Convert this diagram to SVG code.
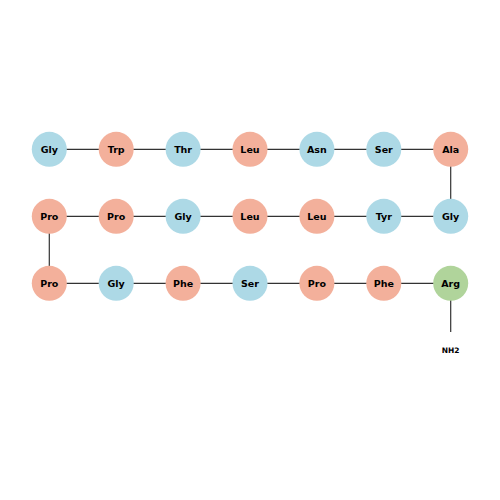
<svg xmlns="http://www.w3.org/2000/svg" width="500" height="500" viewBox="0 0 500 500">
<style>
.n circle{stroke:none}
.s{fill:#F3B09B}
.b{fill:#ADD9E6}
.g{fill:#B0D49B}
text{font-family:"DejaVu Sans",sans-serif;font-weight:bold;font-size:9.5px;fill:#000;text-anchor:middle;dominant-baseline:central}
#connectors line{stroke:#333;stroke-width:1.2}
</style>
<rect width="500" height="500" fill="#fff"/>
<g id="connectors">
<line x1="49.3" y1="149.3" x2="450.7" y2="149.3"/>
<line x1="450.7" y1="149.3" x2="450.7" y2="216.3"/>
<line x1="49.3" y1="216.3" x2="450.7" y2="216.3"/>
<line x1="49.3" y1="216.3" x2="49.3" y2="283.3"/>
<line x1="49.3" y1="283.3" x2="450.7" y2="283.3"/>
<line x1="450.7" y1="283.3" x2="450.7" y2="332"/>
</g>
<g id="n1" class="n"><circle class="b" cx="49.3" cy="149.3" r="17.5"/><text x="49.3" y="149.3">Gly</text></g>
<g id="n2" class="n"><circle class="s" cx="116.2" cy="149.3" r="17.5"/><text x="116.2" y="149.3">Trp</text></g>
<g id="n3" class="n"><circle class="b" cx="183.1" cy="149.3" r="17.5"/><text x="183.1" y="149.3">Thr</text></g>
<g id="n4" class="n"><circle class="s" cx="250" cy="149.3" r="17.5"/><text x="250" y="149.3">Leu</text></g>
<g id="n5" class="n"><circle class="b" cx="316.9" cy="149.3" r="17.5"/><text x="316.9" y="149.3">Asn</text></g>
<g id="n6" class="n"><circle class="b" cx="383.8" cy="149.3" r="17.5"/><text x="383.8" y="149.3">Ser</text></g>
<g id="n7" class="n"><circle class="s" cx="450.7" cy="149.3" r="17.5"/><text x="450.7" y="149.3">Ala</text></g>
<g id="n8" class="n"><circle class="b" cx="450.7" cy="216.3" r="17.5"/><text x="450.7" y="216.3">Gly</text></g>
<g id="n9" class="n"><circle class="b" cx="383.8" cy="216.3" r="17.5"/><text x="383.8" y="216.3">Tyr</text></g>
<g id="n10" class="n"><circle class="s" cx="316.9" cy="216.3" r="17.5"/><text x="316.9" y="216.3">Leu</text></g>
<g id="n11" class="n"><circle class="s" cx="250" cy="216.3" r="17.5"/><text x="250" y="216.3">Leu</text></g>
<g id="n12" class="n"><circle class="b" cx="183.1" cy="216.3" r="17.5"/><text x="183.1" y="216.3">Gly</text></g>
<g id="n13" class="n"><circle class="s" cx="116.2" cy="216.3" r="17.5"/><text x="116.2" y="216.3">Pro</text></g>
<g id="n14" class="n"><circle class="s" cx="49.3" cy="216.3" r="17.5"/><text x="49.3" y="216.3">Pro</text></g>
<g id="n15" class="n"><circle class="s" cx="49.3" cy="283.3" r="17.5"/><text x="49.3" y="283.3">Pro</text></g>
<g id="n16" class="n"><circle class="b" cx="116.2" cy="283.3" r="17.5"/><text x="116.2" y="283.3">Gly</text></g>
<g id="n17" class="n"><circle class="s" cx="183.1" cy="283.3" r="17.5"/><text x="183.1" y="283.3">Phe</text></g>
<g id="n18" class="n"><circle class="b" cx="250" cy="283.3" r="17.5"/><text x="250" y="283.3">Ser</text></g>
<g id="n19" class="n"><circle class="s" cx="316.9" cy="283.3" r="17.5"/><text x="316.9" y="283.3">Pro</text></g>
<g id="n20" class="n"><circle class="s" cx="383.8" cy="283.3" r="17.5"/><text x="383.8" y="283.3">Phe</text></g>
<g id="n21" class="n"><circle class="g" cx="450.7" cy="283.3" r="17.5"/><text x="450.7" y="283.3">Arg</text></g>
<g id="nh2"><text x="450.7" y="350" style="font-size:7.5px">NH2</text></g>
</svg>
